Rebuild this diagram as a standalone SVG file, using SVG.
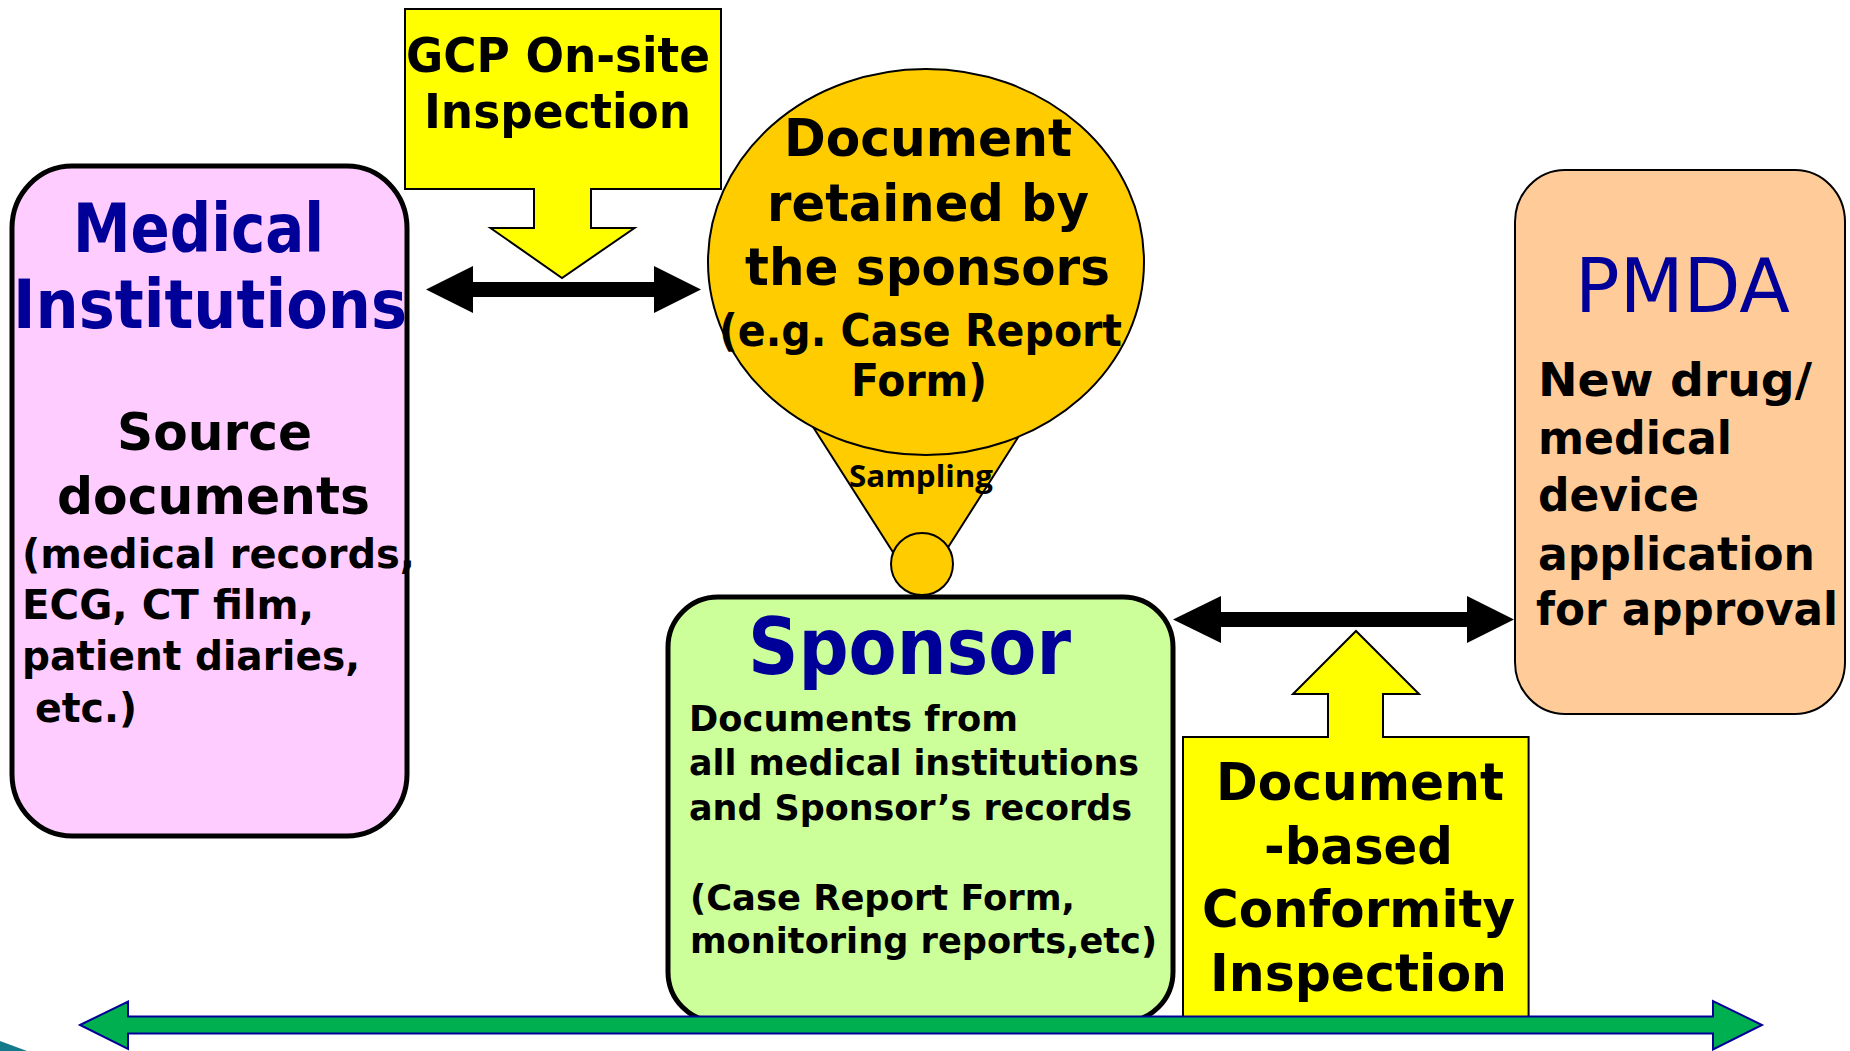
<svg xmlns="http://www.w3.org/2000/svg" width="1850" height="1051" viewBox="0 0 1850 1051">
<style>
.v{font-family:"DejaVu Sans","Liberation Sans",sans-serif;font-weight:bold;fill:#000}
.t{font-family:"DejaVu Sans Condensed","DejaVu Sans","Liberation Sans",sans-serif;font-stretch:condensed;font-weight:bold;fill:#000}
.blue{fill:#000099}
.cal{font-family:"Open Sans","Liberation Sans",sans-serif;font-weight:bold;fill:#000}
.reg{font-family:"DejaVu Sans","Liberation Sans",sans-serif;font-weight:normal}
.blk{fill:#000;stroke:none}
.yel{fill:#FFFF00;stroke:#000;stroke-width:2}
</style>
<rect x="0" y="0" width="1850" height="1051" fill="#fff"/>
<polygon points="0,1041 27,1051 0,1051" fill="#137a8c"/>

<g id="medical-institutions">
<rect x="12" y="166" width="395" height="670" rx="60" ry="62" fill="#FFCCFF" stroke="#000" stroke-width="5"/>
<text class="t blue" font-size="67" x="73" y="252" textLength="251" lengthAdjust="spacingAndGlyphs">Medical</text>
<text class="t blue" font-size="67" x="13" y="328" textLength="394" lengthAdjust="spacingAndGlyphs">Institutions</text>
<text class="v" font-size="52" x="117" y="450" textLength="195" lengthAdjust="spacingAndGlyphs">Source</text>
<text class="v" font-size="52" x="57" y="514" textLength="313" lengthAdjust="spacingAndGlyphs">documents</text>
<text class="v" font-size="41" x="22" y="568" textLength="393" lengthAdjust="spacingAndGlyphs">(medical records,</text>
<text class="v" font-size="41" x="22" y="619" textLength="292" lengthAdjust="spacingAndGlyphs">ECG, CT film,</text>
<text class="v" font-size="41" x="22" y="670" textLength="338" lengthAdjust="spacingAndGlyphs">patient diaries,</text>
<text class="v" font-size="41" x="35" y="722" textLength="102" lengthAdjust="spacingAndGlyphs">etc.)</text>
</g>

<g id="gcp-inspection">
<path class="yel" d="M405,9 H721 V189 H591 V228 H634.5 L562,278 L490.5,228 H534 V189 H405 Z"/>
<text class="t" font-size="48" x="406" y="72" textLength="304" lengthAdjust="spacingAndGlyphs">GCP On-site</text>
<text class="t" font-size="48" x="424" y="128" textLength="267" lengthAdjust="spacingAndGlyphs">Inspection</text>
</g>

<g id="sponsor-documents">
<polygon points="796,400 815,430 919,593 1017,439 1042,400" fill="#FFCC00" stroke="#000" stroke-width="2"/>
<ellipse cx="926" cy="262" rx="218" ry="193" fill="#FFCC00" stroke="#000" stroke-width="2"/>
<circle cx="922" cy="564" r="31" fill="#FFCC00" stroke="#000" stroke-width="2"/>
<text class="v" font-size="51" x="784" y="156" textLength="288" lengthAdjust="spacingAndGlyphs">Document</text>
<text class="v" font-size="51" x="767" y="221" textLength="322" lengthAdjust="spacingAndGlyphs">retained by</text>
<text class="v" font-size="51" x="745" y="285" textLength="365" lengthAdjust="spacingAndGlyphs">the sponsors</text>
<text class="v" font-size="44" x="719" y="346" textLength="403" lengthAdjust="spacingAndGlyphs">(e.g. Case Report</text>
<text class="v" font-size="44" x="851" y="396" textLength="136" lengthAdjust="spacingAndGlyphs">Form)</text>
<text class="cal" font-size="31" x="849" y="487" textLength="144" lengthAdjust="spacingAndGlyphs">Sampling</text>
</g>

<g id="sponsor">
<rect x="668" y="597" width="505" height="425" rx="50" ry="50" fill="#CCFF99" stroke="#000" stroke-width="5"/>
<text class="t blue" font-size="79" x="748" y="674" textLength="323" lengthAdjust="spacingAndGlyphs">Sponsor</text>
<text class="t" font-size="36" x="689" y="731" textLength="329" lengthAdjust="spacingAndGlyphs">Documents from</text>
<text class="t" font-size="36" x="689" y="775" textLength="450" lengthAdjust="spacingAndGlyphs">all medical institutions</text>
<text class="t" font-size="36" x="689" y="820" textLength="443" lengthAdjust="spacingAndGlyphs">and Sponsor’s records</text>
<text class="t" font-size="36" x="690" y="910" textLength="385" lengthAdjust="spacingAndGlyphs">(Case Report Form,</text>
<text class="t" font-size="36" x="690" y="953" textLength="467" lengthAdjust="spacingAndGlyphs">monitoring reports,etc)</text>
</g>

<g id="document-based-inspection">
<path class="yel" d="M1183,737 H1328 V694 H1293 L1356,631 L1419,694 H1383 V737 H1528.6 V1020 H1183 Z"/>
<text class="t" font-size="51" x="1216" y="800" textLength="288" lengthAdjust="spacingAndGlyphs">Document</text>
<text class="t" font-size="51" x="1264" y="864" textLength="189" lengthAdjust="spacingAndGlyphs">-based</text>
<text class="t" font-size="51" x="1202" y="927" textLength="313" lengthAdjust="spacingAndGlyphs">Conformity</text>
<text class="t" font-size="51" x="1210" y="991" textLength="297" lengthAdjust="spacingAndGlyphs">Inspection</text>
</g>

<g id="pmda">
<rect x="1515" y="170" width="330" height="544" rx="50" ry="52" fill="#FFCC99" stroke="#000" stroke-width="2"/>
<text class="reg blue" font-size="75" x="1575" y="312" textLength="215" lengthAdjust="spacingAndGlyphs">PMDA</text>
<text class="v" font-size="46" x="1538" y="396" textLength="274" lengthAdjust="spacingAndGlyphs">New drug/</text>
<text class="v" font-size="46" x="1538" y="454" textLength="194" lengthAdjust="spacingAndGlyphs">medical</text>
<text class="v" font-size="46" x="1538" y="511" textLength="161" lengthAdjust="spacingAndGlyphs">device</text>
<text class="v" font-size="46" x="1538" y="570" textLength="277" lengthAdjust="spacingAndGlyphs">application</text>
<text class="v" font-size="46" x="1536" y="625" textLength="302" lengthAdjust="spacingAndGlyphs">for approval</text>
</g>

<g id="connectors">
<polygon class="blk" points="426,289.5 473,266 473,282 654,282 654,266 701,289.5 654,313 654,297 473,297 473,313"/>
<polygon class="blk" points="1173,619.5 1221,596 1221,612 1467,612 1467,596 1514,619.5 1467,643 1467,627 1221,627 1221,643"/>
<path d="M80,1025 L128,1001.5 V1016.5 H1713 V1001 L1762,1025 L1713,1049.5 V1033.5 H128 V1049 Z" fill="#00B050" stroke="#000099" stroke-width="2"/>
</g>
</svg>
